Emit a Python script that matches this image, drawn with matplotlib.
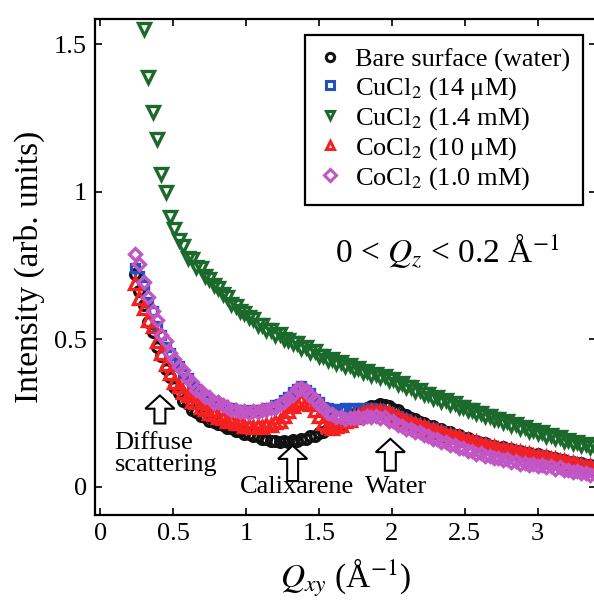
import numpy as np
import matplotlib
matplotlib.use('Agg')
import matplotlib.pyplot as plt
from matplotlib.patches import FancyArrow

plt.rcParams['font.family'] = ['Liberation Serif', 'DejaVu Serif']
plt.rcParams['mathtext.fontset'] = 'stix'

# common Q_xy grid of the scans (1/A)
q = np.round(np.arange(0.24, 3.40, 0.03), 2)

# bare surface (water)
black = [
    0.72, 0.665, 0.615, 0.56, 0.525, 0.475, 0.445, 0.40, 0.372, 0.338,
    0.318, 0.292, 0.282, 0.262, 0.255, 0.241, 0.236, 0.225, 0.221, 0.212,
    0.209, 0.201, 0.199, 0.191, 0.189, 0.181, 0.179, 0.172, 0.171, 0.164,
    0.163, 0.157, 0.157, 0.153, 0.156, 0.152, 0.159, 0.156, 0.164, 0.163,
    0.174, 0.174, 0.184, 0.186, 0.196, 0.198, 0.209, 0.213, 0.226, 0.232,
    0.246, 0.252, 0.264, 0.266, 0.275, 0.275, 0.281, 0.276, 0.275, 0.264,
    0.26, 0.248, 0.244, 0.233, 0.23, 0.22, 0.218, 0.208, 0.206, 0.196,
    0.195, 0.186, 0.185, 0.176, 0.175, 0.166, 0.165, 0.156, 0.156, 0.148,
    0.148, 0.14, 0.14, 0.133, 0.134, 0.127, 0.128, 0.121, 0.122, 0.115,
    0.116, 0.109, 0.11, 0.103, 0.104, 0.097, 0.098, 0.091, 0.092, 0.085,
    0.086, 0.079, 0.08, 0.073, 0.074, 0.068]

# CuCl2 14 uM
blue = [
    0.74, 0.715, 0.685, 0.625, 0.595, 0.545, 0.515, 0.475, 0.455, 0.42,
    0.408, 0.382, 0.368, 0.342, 0.333, 0.315, 0.309, 0.293, 0.29, 0.278,
    0.277, 0.268, 0.267, 0.26, 0.262, 0.256, 0.26, 0.256, 0.262, 0.26,
    0.268, 0.268, 0.278, 0.282, 0.296, 0.303, 0.322, 0.333, 0.342, 0.328,
    0.317, 0.298, 0.287, 0.27, 0.267, 0.26, 0.264, 0.262, 0.267, 0.263,
    0.266, 0.262, 0.267, 0.264, 0.268, 0.263, 0.264, 0.256, 0.254, 0.244,
    0.242, 0.232, 0.23, 0.22, 0.218, 0.208, 0.207, 0.198, 0.198, 0.19,
    0.19, 0.181, 0.18, 0.171, 0.17, 0.161, 0.16, 0.152, 0.152, 0.144,
    0.144, 0.136, 0.137, 0.13, 0.131, 0.124, 0.125, 0.118, 0.119, 0.112,
    0.113, 0.106, 0.107, 0.1, 0.101, 0.094, 0.095, 0.088, 0.089, 0.082,
    0.083, 0.076, 0.077, 0.07, 0.071, 0.065]

# CuCl2 1.4 mM
green = [
    2.05, 1.76, 1.55, 1.39, 1.27, 1.18, 1.06, 1.0, 0.915, 0.875,
    0.835, 0.815, 0.775, 0.772, 0.745, 0.742, 0.715, 0.705, 0.685, 0.675,
    0.652, 0.645, 0.618, 0.614, 0.595, 0.588, 0.574, 0.568, 0.55, 0.548,
    0.53, 0.533, 0.515, 0.518, 0.5, 0.498, 0.486, 0.488, 0.472, 0.473,
    0.456, 0.459, 0.445, 0.443, 0.43, 0.434, 0.42, 0.423, 0.41, 0.414,
    0.4, 0.404, 0.39, 0.394, 0.38, 0.384, 0.374, 0.375, 0.362, 0.364,
    0.35, 0.352, 0.338, 0.34, 0.326, 0.329, 0.314, 0.316, 0.302, 0.304,
    0.291, 0.293, 0.281, 0.283, 0.27, 0.271, 0.259, 0.261, 0.249, 0.251,
    0.239, 0.241, 0.229, 0.231, 0.22, 0.223, 0.211, 0.213, 0.201, 0.204,
    0.191, 0.194, 0.182, 0.185, 0.174, 0.176, 0.165, 0.168, 0.157, 0.16,
    0.149, 0.152, 0.141, 0.144, 0.134, 0.136]

# CoCl2 10 uM
red = [
    0.69, 0.64, 0.605, 0.565, 0.545, 0.495, 0.455, 0.415, 0.385, 0.355,
    0.342, 0.322, 0.312, 0.292, 0.287, 0.27, 0.264, 0.25, 0.247, 0.236,
    0.234, 0.224, 0.223, 0.216, 0.215, 0.208, 0.208, 0.203, 0.207, 0.204,
    0.21, 0.21, 0.22, 0.224, 0.242, 0.256, 0.274, 0.283, 0.294, 0.288,
    0.282, 0.26, 0.242, 0.216, 0.207, 0.2, 0.207, 0.21, 0.222, 0.226,
    0.238, 0.241, 0.25, 0.25, 0.257, 0.254, 0.257, 0.25, 0.249, 0.239,
    0.237, 0.227, 0.225, 0.216, 0.214, 0.205, 0.204, 0.195, 0.194, 0.186,
    0.186, 0.177, 0.177, 0.168, 0.168, 0.159, 0.159, 0.151, 0.151, 0.143,
    0.143, 0.135, 0.136, 0.129, 0.13, 0.123, 0.124, 0.117, 0.118, 0.111,
    0.112, 0.105, 0.106, 0.099, 0.1, 0.093, 0.094, 0.087, 0.088, 0.081,
    0.082, 0.075, 0.076, 0.069, 0.07, 0.064]

# CoCl2 1.0 mM
pink = [
    0.79, 0.755, 0.695, 0.645, 0.595, 0.565, 0.515, 0.495, 0.455, 0.435,
    0.405, 0.395, 0.365, 0.355, 0.33, 0.325, 0.305, 0.303, 0.286, 0.287,
    0.276, 0.272, 0.262, 0.262, 0.255, 0.257, 0.252, 0.258, 0.253, 0.26,
    0.259, 0.268, 0.268, 0.282, 0.287, 0.302, 0.312, 0.332, 0.336, 0.327,
    0.307, 0.297, 0.277, 0.267, 0.252, 0.247, 0.237, 0.237, 0.23, 0.234,
    0.232, 0.238, 0.235, 0.242, 0.237, 0.242, 0.235, 0.237, 0.225, 0.222,
    0.21, 0.208, 0.197, 0.197, 0.187, 0.186, 0.175, 0.174, 0.163, 0.162,
    0.152, 0.152, 0.142, 0.142, 0.132, 0.132, 0.122, 0.122, 0.113, 0.114,
    0.105, 0.106, 0.097, 0.099, 0.091, 0.093, 0.085, 0.087, 0.079, 0.082,
    0.075, 0.078, 0.071, 0.074, 0.067, 0.07, 0.062, 0.066, 0.056, 0.058,
    0.05, 0.053, 0.046, 0.048, 0.041, 0.043]

labels = ['Bare surface (water)', 'CuCl$_2$ (14 \u03bcM)', 'CuCl$_2$ (1.4 mM)',
          'CoCl$_2$ (10 \u03bcM)', 'CoCl$_2$ (1.0 mM)']
colors = ['#111111', '#2150c0', '#1b6a2c', '#f52020', '#c156c4']
markers = ['o', 's', 'v', '^', 'D']
sizes = [7, 6, 9, 8.5, 6.5]

# annotation arrows: (x, tail y, tip y)
arrow_x = [0.41, 1.32, 1.99]
arrow_y0 = [0.215, 0.02, 0.055]
arrow_y1 = [0.31, 0.14, 0.163]

fig = plt.figure(figsize=(5.94, 6.03), dpi=100)
ax = fig.add_axes([95 / 594, 88 / 603, 501 / 594, 496 / 603])

for ys, lab, c, m, s in zip([black, blue, green, red, pink], labels, colors, markers, sizes):
    ax.plot(q, ys, linestyle='none', marker=m, ms=s, mfc='none', mec=c, mew=2.4, label=lab)

for x, y0, y1 in zip(arrow_x, arrow_y0, arrow_y1):
    ax.add_patch(FancyArrow(x, y0, 0, y1 - y0, width=0.075, head_width=0.2, head_length=0.045,
                            length_includes_head=True, fc='white', ec='black', lw=1.5, zorder=5))

ax.text(0.1, 0.185, 'Diffuse\nscattering', fontsize=19, ha='left', va='top', linespacing=1.0)
ax.text(1.35, 0.0, 'Calixarene', fontsize=19, ha='center', va='center')
ax.text(2.03, 0.0, 'Water', fontsize=19, ha='center', va='center')
ax.text(1.61, 0.80, '0 < $Q_z$ < 0.2 \u00c5$^{-1}$', fontsize=24, ha='left', va='center')

ax.set_xlim(-0.035, 3.40)
ax.set_ylim(-0.095, 1.585)
ax.set_xticks([0, 0.5, 1, 1.5, 2, 2.5, 3])
ax.set_xticklabels(['0', '0.5', '1', '1.5', '2', '2.5', '3'])
ax.set_yticks([0, 0.5, 1, 1.5])
ax.set_yticklabels(['0', '0.5', '1', '1.5'])
ax.tick_params(direction='in', length=5, width=1.2, labelsize=19, top=True, right=True, pad=6)
for sp in ax.spines.values():
    sp.set_linewidth(1.6)

ax.set_xlabel('$Q_{xy}$ (\u00c5$^{-1}$)', fontsize=24, labelpad=8)
ax.set_ylabel('Intensity (arb. units)', fontsize=24, labelpad=6)

leg = ax.legend(loc='upper right', bbox_to_anchor=(0.974, 0.968), borderaxespad=0,
                fontsize=19, numpoints=1, handlelength=0.9, handletextpad=0.5,
                labelspacing=0.12, borderpad=0.5, fancybox=False, framealpha=1, edgecolor='black')
leg.get_frame().set_linewidth(1.6)
for h in leg.legend_handles:
    h.set_markersize(6)
    h.set_markeredgewidth(2.2)

fig.savefig('out.png', dpi=100)
